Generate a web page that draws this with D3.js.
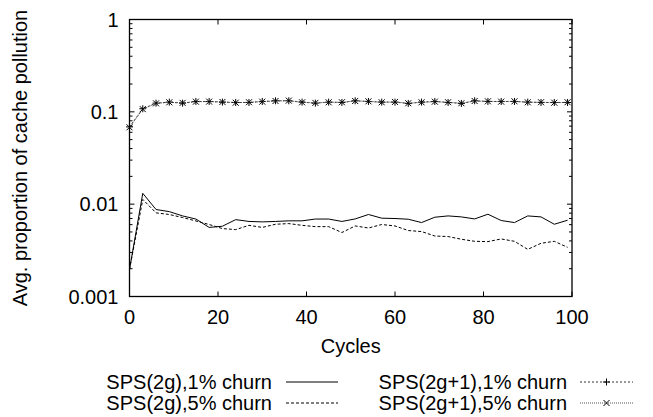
<!DOCTYPE html>
<html>
<head>
<meta charset="utf-8">
<script src="https://d3js.org/d3.v7.min.js"></script>
<style>
  body { margin: 0; background: white; }
  svg text { font-family: "Liberation Sans", Arial, sans-serif; font-size: 20px; fill: #000; }
  .line { fill: none; stroke-width: 1; }
</style>
</head>
<body>
<svg id="chart" width="653" height="417"></svg>
<script>
// cycles sampled every 3
var cycles = d3.range(0, 100, 3);

// SPS(2g), 1% churn
var sps2g_1 = [0.00196, 0.0131, 0.00875, 0.0083, 0.00746, 0.0069, 0.0056, 0.00577, 0.0068, 0.0065,
  0.00643, 0.0065, 0.0066, 0.0066, 0.0069, 0.0069, 0.0065, 0.00692, 0.00773, 0.00705,
  0.00699, 0.00687, 0.00632, 0.00722, 0.00746, 0.00728, 0.00692, 0.00778, 0.00665, 0.00632,
  0.00746, 0.00728, 0.00606, 0.0067];
// SPS(2g), 5% churn
var sps2g_5 = [0.00196, 0.01125, 0.00805, 0.00773, 0.00716, 0.00658, 0.00602, 0.00544, 0.0053, 0.0059,
  0.0056, 0.00606, 0.00616, 0.0059, 0.00571, 0.00571, 0.00493, 0.00581, 0.00552, 0.00602,
  0.00581, 0.00518, 0.00505, 0.00452, 0.00446, 0.00417, 0.00396, 0.00393, 0.0042, 0.00396,
  0.00324, 0.00377, 0.00396, 0.00341];
// SPS(2g+1), 1% churn
var sps2g1_1 = [0.0687, 0.108, 0.1242, 0.1274, 0.1242, 0.1295, 0.1295, 0.1274, 0.1263, 0.1263,
  0.1295, 0.1317, 0.1317, 0.1274, 0.1242, 0.1274, 0.1263, 0.1317, 0.1295, 0.1274,
  0.1274, 0.1233, 0.1274, 0.1295, 0.1263, 0.1233, 0.1317, 0.1295, 0.1295, 0.1295,
  0.1274, 0.1263, 0.1263, 0.1263];
// SPS(2g+1), 5% churn
var sps2g1_5 = [0.0680, 0.107, 0.1235, 0.1268, 0.1250, 0.1288, 0.1290, 0.1280, 0.1255, 0.1270,
  0.1288, 0.1310, 0.1322, 0.1268, 0.1250, 0.1268, 0.1270, 0.1310, 0.1300, 0.1268,
  0.1280, 0.1240, 0.1268, 0.1288, 0.1270, 0.1240, 0.1310, 0.1300, 0.1288, 0.1300,
  0.1268, 0.1270, 0.1255, 0.1270];

var xTicks = [0, 20, 40, 60, 80, 100];
var yTicks = [0.001, 0.01, 0.1, 1];
var yTickLabels = ["0.001", "0.01", "0.1", "1"];

var svg = d3.select("#chart");
var pLeft = 129.5, pRight = 572, pTop = 19.5, pBottom = 296.5;

var x = d3.scaleLinear().domain([0, 100]).range([pLeft, pRight]);
var y = d3.scaleLog().domain([0.001, 1]).range([pBottom, pTop]);

// minor ticks for log axis
var minor = [];
[0.001, 0.01, 0.1].forEach(function(d) {
  for (var k = 2; k <= 9; k++) minor.push(d * k);
});

var g = svg.append("g");

// y ticks both sides
yTicks.forEach(function(d) {
  g.append("line").attr("x1", pLeft).attr("x2", pLeft + 5).attr("y1", y(d)).attr("y2", y(d)).attr("stroke", "#000");
  g.append("line").attr("x1", pRight).attr("x2", pRight - 5).attr("y1", y(d)).attr("y2", y(d)).attr("stroke", "#000");
});
minor.forEach(function(d) {
  g.append("line").attr("x1", pLeft).attr("x2", pLeft + 3).attr("y1", y(d)).attr("y2", y(d)).attr("stroke", "#000");
  g.append("line").attr("x1", pRight).attr("x2", pRight - 3).attr("y1", y(d)).attr("y2", y(d)).attr("stroke", "#000");
});
yTicks.forEach(function(d, i) {
  g.append("text").attr("x", pLeft - 11).attr("y", y(d) + 7).attr("text-anchor", "end").text(yTickLabels[i]);
});

// x ticks both sides
xTicks.forEach(function(d) {
  g.append("line").attr("x1", x(d)).attr("x2", x(d)).attr("y1", pBottom).attr("y2", pBottom - 5).attr("stroke", "#000");
  g.append("line").attr("x1", x(d)).attr("x2", x(d)).attr("y1", pTop).attr("y2", pTop + 5).attr("stroke", "#000");
  g.append("text").attr("x", x(d)).attr("y", pBottom + 27).attr("text-anchor", "middle").text(d);
});

// frame
g.append("rect").attr("x", pLeft).attr("y", pTop).attr("width", pRight - pLeft).attr("height", pBottom - pTop)
  .attr("fill", "none").attr("stroke", "#000").attr("stroke-width", 1.3);

// axis titles
svg.append("text").attr("x", (pLeft + pRight) / 2).attr("y", 353).attr("text-anchor", "middle").text("Cycles");
svg.append("text").attr("transform", "translate(27," + ((pTop + pBottom) / 2) + ") rotate(-90)")
  .attr("text-anchor", "middle").text("Avg. proportion of cache pollution");

var line = d3.line().x(function(d, i) { return x(cycles[i]); }).y(function(d) { return y(d); });

var series = [
  { name: "SPS(2g),1% churn", data: sps2g_1, color: "#000", dash: null, marker: null },
  { name: "SPS(2g),5% churn", data: sps2g_5, color: "#000", dash: "3,2", marker: null },
  { name: "SPS(2g+1),1% churn", data: sps2g1_1, color: "#333", dash: "2,2", marker: "plus" },
  { name: "SPS(2g+1),5% churn", data: sps2g1_5, color: "#555", dash: "1,1", marker: "cross" }
];

function drawMarker(sel, type, cx, cy) {
  var s = 3.5;
  if (type === "plus") {
    sel.append("path").attr("d", "M" + (cx - s) + "," + cy + "H" + (cx + s) + "M" + cx + "," + (cy - s) + "V" + (cy + s))
      .attr("stroke", "#000").attr("stroke-width", 1);
  } else if (type === "cross") {
    var t = 3;
    sel.append("path").attr("d", "M" + (cx - t) + "," + (cy - t) + "L" + (cx + t) + "," + (cy + t) + "M" + (cx - t) + "," + (cy + t) + "L" + (cx + t) + "," + (cy - t))
      .attr("stroke", "#000").attr("stroke-width", 1);
  }
}

var plot = svg.append("g");
series.forEach(function(s) {
  plot.append("path").datum(s.data).attr("class", "line").attr("d", line)
    .attr("stroke", s.color).attr("stroke-dasharray", s.dash);
  if (s.marker) {
    s.data.forEach(function(d, i) {
      drawMarker(plot, s.marker, x(cycles[i]), y(d));
    });
  }
});

// legend
var legendRows = [
  { s: series[0], tx: 272, ty: 389, lx1: 286, lx2: 338 },
  { s: series[1], tx: 272, ty: 410, lx1: 286, lx2: 338 },
  { s: series[2], tx: 567, ty: 389, lx1: 580, lx2: 633 },
  { s: series[3], tx: 567, ty: 410, lx1: 580, lx2: 633 }
];
legendRows.forEach(function(r) {
  svg.append("text").attr("x", r.tx).attr("y", r.ty).attr("text-anchor", "end").text(r.s.name);
  var ly = r.ty - 7;
  svg.append("line").attr("x1", r.lx1).attr("x2", r.lx2).attr("y1", ly).attr("y2", ly)
    .attr("stroke", r.s.color).attr("stroke-width", 1).attr("stroke-dasharray", r.s.dash);
  if (r.s.marker) drawMarker(svg, r.s.marker, (r.lx1 + r.lx2) / 2, ly);
});
</script>
</body>
</html>
